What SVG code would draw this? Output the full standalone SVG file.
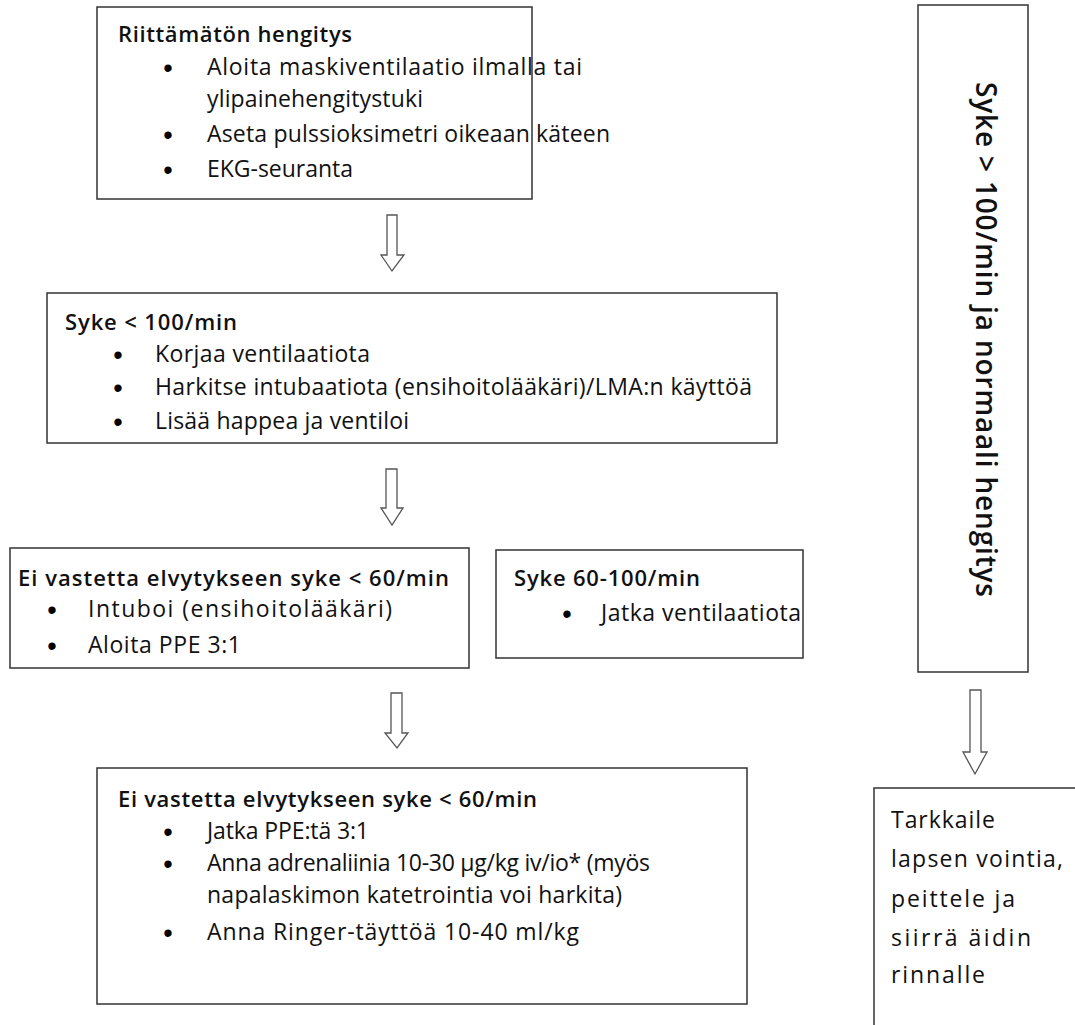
<svg xmlns="http://www.w3.org/2000/svg" width="1075" height="1025" viewBox="0 0 1075 1025">
<style>
.box{fill:#fff;stroke:#333;stroke-width:1.5}
.t{font-family:"Open Sans","Liberation Sans",sans-serif;font-size:23px;fill:#111}
.b{font-weight:600;font-size:22px}
.d{font-family:"Liberation Sans",Arial,sans-serif;font-size:27px;fill:#000;text-anchor:middle}
.arrow{fill:#fff;stroke:#555;stroke-width:1.3;stroke-linejoin:miter}
</style>
<rect width="1075" height="1025" fill="#fff"/>
<g id="n1">
<rect class="box" x="97" y="7" width="435" height="192"/>
<text class="t b" x="118" y="42" textLength="234">Riittämätön hengitys</text>
<text class="d" x="168" y="77">•</text>
<text class="t" x="207" y="75" textLength="375">Aloita maskiventilaatio ilmalla tai</text>
<text class="t" x="207" y="107" textLength="216">ylipainehengitystuki</text>
<text class="d" x="168" y="144">•</text>
<text class="t" x="207" y="142" textLength="403">Aseta pulssioksimetri oikeaan käteen</text>
<text class="d" x="168" y="179">•</text>
<text class="t" x="207" y="177" textLength="146">EKG-seuranta</text>
</g>
<g id="n2">
<rect class="box" x="47" y="293" width="730" height="150"/>
<text class="t b" x="65" y="330" textLength="172">Syke &lt; 100/min</text>
<text class="d" x="118" y="364">•</text>
<text class="t" x="155" y="362" textLength="215">Korjaa ventilaatiota</text>
<text class="d" x="118" y="397">•</text>
<text class="t" x="155" y="395" textLength="597">Harkitse intubaatiota (ensihoitolääkäri)/LMA:n käyttöä</text>
<text class="d" x="118" y="431">•</text>
<text class="t" x="155" y="429" textLength="254">Lisää happea ja ventiloi</text>
</g>
<g id="n3">
<rect class="box" x="10" y="548" width="459" height="120"/>
<text class="t b" x="18" y="586" textLength="431">Ei vastetta elvytykseen syke &lt; 60/min</text>
<text class="d" x="52" y="619">•</text>
<text class="t" x="88" y="617" textLength="304">Intuboi (ensihoitolääkäri)</text>
<text class="d" x="52" y="655">•</text>
<text class="t" x="88" y="653" textLength="153">Aloita PPE 3:1</text>
</g>
<g id="n4">
<rect class="box" x="496" y="550" width="307" height="108"/>
<text class="t b" x="514" y="586" textLength="186">Syke 60-100/min</text>
<text class="d" x="567" y="623">•</text>
<text class="t" x="601" y="621" textLength="200">Jatka ventilaatiota</text>
</g>
<g id="n5">
<rect class="box" x="97" y="768" width="650" height="236"/>
<text class="t b" x="118" y="807" textLength="419">Ei vastetta elvytykseen syke &lt; 60/min</text>
<text class="d" x="168" y="841">•</text>
<text class="t" x="207" y="839" textLength="162">Jatka PPE:tä 3:1</text>
<text class="d" x="168" y="873">•</text>
<text class="t" x="207" y="871" textLength="443">Anna adrenaliinia 10-30 µg/kg iv/io* (myös</text>
<text class="t" x="207" y="903" textLength="415">napalaskimon katetrointia voi harkita)</text>
<text class="d" x="168" y="942">•</text>
<text class="t" x="207" y="940" textLength="372">Anna Ringer-täyttöä 10-40 ml/kg</text>
</g>
<g id="n6">
<rect class="box" x="918" y="5" width="110" height="667"/>
<text class="t b" x="0" y="0" style="font-size:28px" textLength="515" transform="translate(976,82) rotate(90)">Syke &gt; 100/min ja normaali hengitys</text>
</g>
<g id="n7">
<path class="box" d="M874,1025 V788 H1080"/>
<text class="t" x="891" y="828" textLength="104">Tarkkaile</text>
<text class="t" x="891" y="867" textLength="172">lapsen vointia,</text>
<text class="t" x="891" y="907" textLength="124">peittele ja</text>
<text class="t" x="891" y="946" textLength="140">siirrä äidin</text>
<text class="t" x="891" y="983" textLength="94">rinnalle</text>
</g>
<g id="connectors">
<path class="arrow" d="M387,215 H397 V255 H404 L392,271 L381,255 H387 Z"/>
<path class="arrow" d="M386,469 H397 V508 H403 L392,525 L381,508 H386 Z"/>
<path class="arrow" d="M391,693 H402 V733 H408 L397,748 L385,733 H391 Z"/>
<path class="arrow" d="M970,690 H981 V752 H987 L975,774 L963,752 H970 Z"/>
</g>
</svg>
